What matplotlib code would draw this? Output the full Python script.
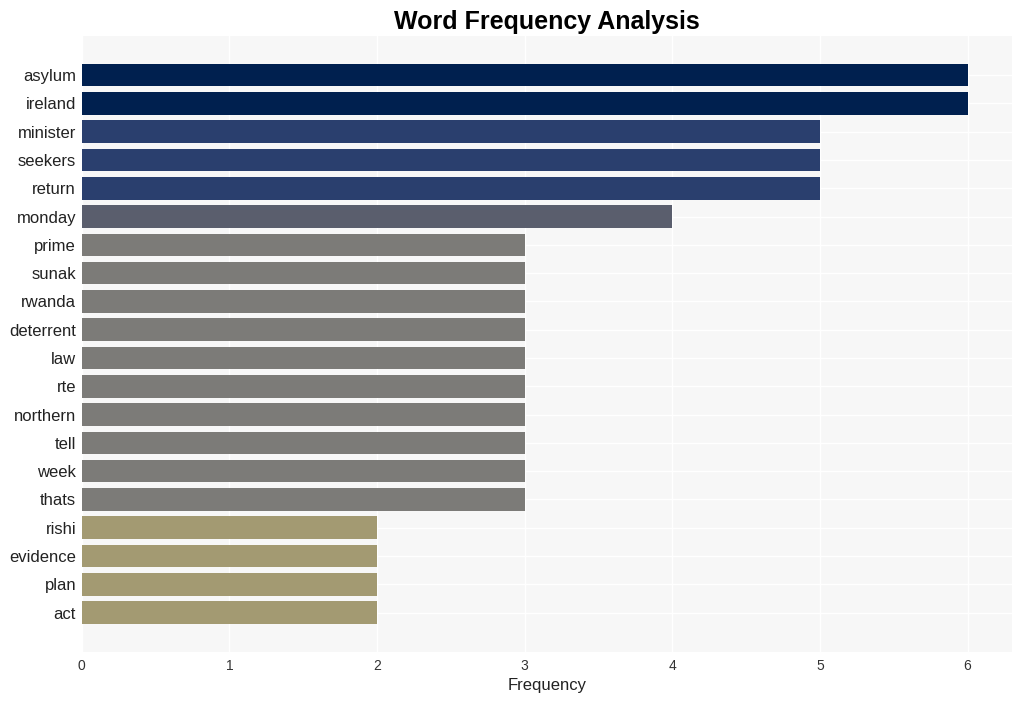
import matplotlib
matplotlib.use("Agg")
import matplotlib.pyplot as plt

plt.rcParams['font.family'] = ['Liberation Sans', 'DejaVu Sans']

words = ["asylum", "ireland", "minister", "seekers", "return", "monday",
         "prime", "sunak", "rwanda", "deterrent", "law", "rte", "northern",
         "tell", "week", "thats", "rishi", "evidence", "plan", "act"]
counts = [6, 6, 5, 5, 5, 4, 3, 3, 3, 3, 3, 3, 3, 3, 3, 3, 2, 2, 2, 2]

# colour per frequency level
level_colors = {6: "#00204f", 5: "#2a3f6e", 4: "#5a5e6d", 3: "#7c7b78", 2: "#a39a72"}


def main():
    fig, ax = plt.subplots(figsize=(10.21, 7.01), dpi=100)
    fig.subplots_adjust(left=0.08, right=0.991, top=0.949, bottom=0.07)

    ax.set_facecolor("#f7f7f7")
    ypos = range(len(words))
    ax.barh(ypos, counts, height=0.8, color=[level_colors[c] for c in counts], zorder=2)
    ax.set_yticks(list(ypos))
    ax.set_yticklabels(words, fontsize=12, color="#222222")
    ax.invert_yaxis()

    ax.grid(True, color="white", linewidth=1, zorder=0)
    ax.set_axisbelow(True)
    for s in ax.spines.values():
        s.set_visible(False)
    ax.tick_params(axis="both", length=0)
    ax.tick_params(axis="x", labelsize=10, colors="#333333", pad=5)
    ax.tick_params(axis="y", pad=4)

    ax.set_xlabel("Frequency", fontsize=12, color="#222222", labelpad=4)
    ax.set_title("Word Frequency Analysis", fontsize=18, fontweight="bold", pad=5)

    fig.savefig("out.png", dpi=100)


if __name__ == '__main__':
    main()
